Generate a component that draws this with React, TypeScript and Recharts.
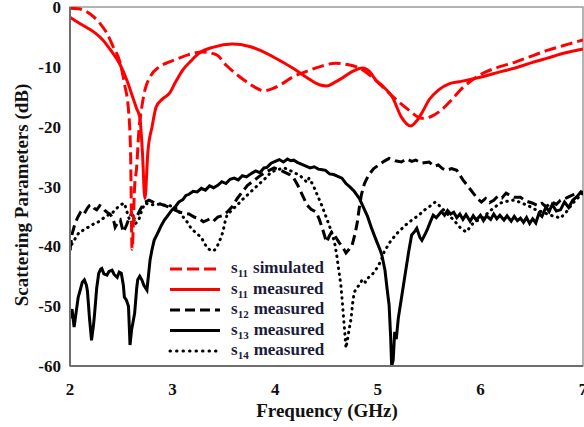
import { LineChart, Line, XAxis, YAxis, ReferenceArea, Legend } from 'recharts';

// s11 simulated
const s11SimFreq = [2.0, 2.08, 2.14, 2.19, 2.29, 2.36, 2.42, 2.49, 2.53, 2.57, 2.59, 2.605, 2.63, 2.65, 2.67, 2.7, 2.73, 2.78, 2.87, 2.95, 3.04, 3.15, 3.29, 3.43, 3.52, 3.62, 3.72, 3.8, 3.89, 3.98, 4.07, 4.17, 4.3, 4.43, 4.59, 4.7, 4.82, 4.95, 5.08, 5.2, 5.3, 5.43, 5.52, 5.62, 5.72, 5.82, 5.92, 6.01, 6.15, 6.34, 6.5, 6.66, 6.82, 7.0];
const s11SimDb = [-0.2, -0.3, -0.6, -1.1, -2.7, -4.4, -6.6, -9.4, -12.8, -17.2, -24, -40.5, -30, -26.7, -21, -16.7, -13.9, -11.7, -10, -9.3, -8.7, -8.0, -7.5, -8.0, -9.7, -11.2, -12.5, -13.4, -14, -13.6, -12.8, -11.7, -10.8, -10, -9.4, -9.6, -10.2, -11.8, -13.9, -15.8, -17.2, -18.6, -18.3, -17.2, -15.5, -13.6, -12.2, -11.2, -10.2, -9.2, -8.2, -7.2, -6.4, -5.5];

// s11 measured
const s11MeasFreq = [2.0, 2.08, 2.17, 2.25, 2.32, 2.4, 2.49, 2.56, 2.61, 2.65, 2.68, 2.705, 2.73, 2.76, 2.8, 2.84, 2.9, 2.97, 3.03, 3.1, 3.18, 3.26, 3.4, 3.58, 3.75, 3.91, 4.05, 4.17, 4.3, 4.43, 4.5, 4.58, 4.65, 4.75, 4.85, 4.92, 4.98, 5.06, 5.14, 5.23, 5.32, 5.38, 5.43, 5.5, 5.59, 5.7, 5.79, 6.01, 6.2, 6.34, 6.5, 6.66, 6.82, 7.0];
const s11MeasDb = [-1.7, -2.6, -3.5, -4.4, -5.5, -7.3, -9.7, -12.5, -15, -17, -18.4, -24, -32, -24, -20, -16.7, -15.4, -14.4, -12.5, -10.5, -9, -7.7, -6.7, -6.2, -6.6, -7.7, -9, -10.2, -11.7, -13, -13.2, -12.6, -11.9, -10.8, -10.2, -10.8, -12.2, -13.4, -15, -18.4, -19.9, -19, -17.7, -15.5, -13.9, -12.8, -12.5, -11.7, -10.8, -10.2, -9.3, -8.5, -7.7, -7];

// s12 measured
const s12Freq = [2.0, 2.02, 2.05, 2.08, 2.1, 2.13, 2.17, 2.19, 2.21, 2.24, 2.26, 2.29, 2.31, 2.34, 2.36, 2.39, 2.41, 2.43, 2.44, 2.47, 2.49, 2.51, 2.52, 2.55, 2.57, 2.6, 2.63, 2.65, 2.68, 2.7, 2.73, 2.77, 2.82, 2.86, 2.91, 2.96, 3.02, 3.07, 3.12, 3.16, 3.21, 3.26, 3.3, 3.34, 3.38, 3.41, 3.44, 3.48, 3.53, 3.58, 3.63, 3.68, 3.73, 3.8, 3.86, 3.92, 3.99, 4.04, 4.09, 4.14, 4.18, 4.22, 4.25, 4.28, 4.31, 4.35, 4.4, 4.43, 4.46, 4.5, 4.53, 4.55, 4.58, 4.62, 4.66, 4.69, 4.72, 4.75, 4.78, 4.8, 4.82, 4.84, 4.87, 4.91, 4.96, 5.01, 5.06, 5.11, 5.17, 5.23, 5.28, 5.33, 5.37, 5.43, 5.5, 5.55, 5.59, 5.63, 5.67, 5.72, 5.77, 5.8, 5.83, 5.88, 5.93, 5.97, 6.01, 6.05, 6.09, 6.13, 6.17, 6.21, 6.25, 6.29, 6.33, 6.39, 6.44, 6.51, 6.56, 6.6, 6.64, 6.7, 6.74, 6.78, 6.84, 6.9, 6.95, 7.0];
const s12Db = [-40.6, -38, -36.1, -35, -34.4, -34.8, -33.6, -33.2, -33.1, -33.7, -33.9, -33.2, -33.4, -34.0, -34.3, -34.6, -35.1, -36, -36.8, -35.9, -35.6, -37, -37.6, -36.5, -35.6, -34.5, -35.5, -35.1, -34, -33.4, -32.6, -32.3, -32.7, -32.8, -33.1, -33.4, -33.9, -34.3, -34.5, -34.6, -35.1, -35.4, -35.9, -35.6, -35.2, -35.6, -35.1, -34.9, -34.3, -33.4, -32, -30.9, -29.8, -28.9, -28.1, -27.5, -26.9, -27.2, -27.6, -28.0, -28.6, -29.8, -30.9, -32.0, -33.1, -33.8, -34.3, -35.5, -37, -39.3, -38.2, -37.6, -38.2, -39.3, -40.2, -41.1, -40.5, -39.8, -37.8, -36, -33.5, -31.4, -29.5, -28.1, -27.0, -26.4, -25.8, -25.3, -25.7, -25.9, -25.4, -25.8, -25.6, -26.1, -25.9, -26.6, -26.4, -27.0, -27.3, -27.0, -27.3, -28.1, -28.9, -30.0, -31.1, -32.0, -32.6, -32.0, -32.7, -32.3, -31.6, -31.9, -31.1, -31.5, -31.8, -31.8, -32.4, -32.8, -33.2, -32.8, -33.4, -32.6, -33.0, -32.3, -31.9, -31.4, -31.2, -30.9];

// s13 measured
const s13Freq = [2.0, 2.02, 2.04, 2.06, 2.08, 2.1, 2.12, 2.14, 2.16, 2.17, 2.19, 2.21, 2.23, 2.24, 2.26, 2.28, 2.3, 2.31, 2.33, 2.36, 2.38, 2.41, 2.43, 2.46, 2.48, 2.5, 2.52, 2.53, 2.55, 2.57, 2.585, 2.6, 2.63, 2.65, 2.66, 2.68, 2.7, 2.72, 2.75, 2.77, 2.78, 2.8, 2.82, 2.86, 2.89, 2.92, 2.96, 2.99, 3.03, 3.06, 3.1, 3.13, 3.16, 3.2, 3.24, 3.28, 3.32, 3.36, 3.4, 3.44, 3.48, 3.52, 3.56, 3.6, 3.64, 3.68, 3.72, 3.77, 3.81, 3.85, 3.89, 3.92, 3.96, 4.0, 4.04, 4.08, 4.12, 4.15, 4.18, 4.22, 4.26, 4.3, 4.34, 4.38, 4.42, 4.46, 4.49, 4.53, 4.57, 4.61, 4.65, 4.69, 4.73, 4.77, 4.82, 4.86, 4.9, 4.94, 4.98, 5.02, 5.04, 5.07, 5.09, 5.11, 5.125, 5.135, 5.15, 5.165, 5.18, 5.2, 5.22, 5.25, 5.27, 5.3, 5.33, 5.36, 5.38, 5.41, 5.43, 5.46, 5.48, 5.51, 5.54, 5.57, 5.59, 5.62, 5.65, 5.68, 5.71, 5.74, 5.77, 5.8, 5.83, 5.86, 5.9, 5.93, 5.96, 6.0, 6.03, 6.06, 6.1, 6.13, 6.16, 6.19, 6.23, 6.26, 6.3, 6.33, 6.36, 6.39, 6.42, 6.45, 6.48, 6.51, 6.54, 6.57, 6.6, 6.64, 6.67, 6.7, 6.74, 6.78, 6.82, 6.86, 6.9, 6.94, 6.98, 7.0];
const s13Db = [-52, -50.5, -53.5, -51, -48.5, -47.3, -46, -45.6, -46.5, -47.5, -52, -55.7, -53, -51.2, -47, -44.5, -43.8, -43.7, -44.6, -44.8, -44.2, -44, -44.7, -45.2, -44.3, -44.5, -46.5, -48.5, -49, -50, -56.5, -54, -51.2, -47, -45.6, -45, -45.6, -46.5, -47.3, -44, -42.3, -40.5, -39, -37.6, -36.5, -35.6, -34.7, -34, -33.3, -32.6, -32.2, -31.5, -31.3, -30.8, -30.9, -30.3, -30.6, -29.9, -30.2, -29.8, -29.2, -29.5, -28.8, -28.6, -28.9, -28.2, -28.4, -27.8, -27.4, -27.7, -26.9, -26.8, -26.1, -25.8, -25.5, -25.9, -25.4, -25.7, -25.6, -26.0, -26.3, -26.6, -26.9, -26.7, -27.1, -27.2, -27.3, -27.9, -28.0, -28.3, -28.6, -29.5, -30.1, -30.8, -32, -33.5, -35, -37, -38.8, -40.5, -41.5, -44, -47, -49.8, -55, -60, -59, -54.3, -55.5, -52, -49.8, -46.5, -44.3, -41, -38.1, -37.5, -37, -38.5, -39, -38, -37.3, -36, -34.8, -35.2, -34.8, -34.2, -34.8, -34.0, -34.6, -34.3, -35.2, -34.6, -35.5, -34.7, -35.8, -34.9, -35.6, -34.8, -35.7, -34.9, -35.5, -34.6, -35.4, -34.8, -35.6, -34.9, -35.8, -35.0, -35.7, -35.3, -36.0, -35.2, -36.2, -35.4, -36.1, -34.5, -35.0, -33.4, -34.2, -33.0, -34.1, -33.9, -32.6, -33.5, -32.3, -31.7, -30.9, -31.2];

// s14 measured
const s14Freq = [2.0, 2.02, 2.04, 2.07, 2.09, 2.12, 2.15, 2.18, 2.21, 2.25, 2.28, 2.31, 2.34, 2.38, 2.41, 2.44, 2.47, 2.5, 2.53, 2.56, 2.58, 2.62, 2.65, 2.67, 2.7, 2.73, 2.78, 2.83, 2.88, 2.92, 2.97, 3.02, 3.07, 3.12, 3.15, 3.18, 3.23, 3.28, 3.31, 3.34, 3.38, 3.41, 3.44, 3.47, 3.49, 3.51, 3.53, 3.58, 3.63, 3.68, 3.73, 3.78, 3.83, 3.9, 3.96, 4.02, 4.09, 4.14, 4.18, 4.25, 4.31, 4.33, 4.37, 4.41, 4.45, 4.49, 4.52, 4.55, 4.58, 4.6, 4.62, 4.64, 4.655, 4.67, 4.69, 4.71, 4.74, 4.755, 4.77, 4.8, 4.82, 4.85, 4.88, 4.91, 4.94, 4.97, 5.01, 5.04, 5.06, 5.1, 5.13, 5.17, 5.2, 5.25, 5.3, 5.35, 5.4, 5.45, 5.5, 5.53, 5.56, 5.6, 5.64, 5.69, 5.74, 5.78, 5.81, 5.86, 5.9, 5.93, 5.98, 6.03, 6.1, 6.19, 6.25, 6.32, 6.38, 6.45, 6.5, 6.54, 6.61, 6.68, 6.73, 6.78, 6.84, 6.9, 6.95, 7.0];
const s14Db = [-40.6, -39.5, -39, -38.2, -37.6, -37.4, -37, -36.8, -36.5, -36.0, -35.9, -35.5, -35.1, -34.7, -34.5, -33.9, -33.4, -33.0, -32.8, -34.5, -35.6, -36.5, -36, -35.6, -34.0, -32.8, -33.0, -33.1, -32.9, -33.1, -33.2, -33.4, -34.3, -35.5, -36.1, -37, -37.8, -38.5, -39.5, -40.3, -40.8, -40.6, -39.8, -38.6, -37.6, -36.0, -34.8, -33.9, -33.1, -32.2, -31.4, -30.6, -29.8, -28.7, -27.6, -27.2, -26.9, -27.3, -27.6, -28.3, -29.3, -28.6, -29.8, -31.4, -33.0, -34.8, -36.2, -37.6, -39.5, -41.5, -44, -46.5, -49.5, -52.7, -57, -55, -52, -49.5, -47.7, -46.8, -46.5, -45.5, -46, -45.2, -44.8, -44.2, -43.1, -42, -41, -39.8, -39, -38.2, -37.6, -36.8, -36, -35.4, -34.8, -34.0, -33.4, -33.0, -32.6, -33.2, -33.9, -34.8, -35.6, -36.4, -37, -37.6, -36.8, -36.1, -35.6, -35.1, -34.0, -32.8, -32.5, -32.3, -32.6, -33.1, -33.5, -33.9, -34.3, -34.8, -35.0, -35.3, -34.2, -32.8, -31.9, -31.1];

const xTicks = [2, 3, 4, 5, 6, 7];
const yTicks = [0, -10, -20, -30, -40, -50, -60];

const toPoints = (fs: number[], vs: number[]) => fs.map((f, i) => ({ f, v: vs[i] }));

const SERIF = '"Liberation Serif", "Times New Roman", serif';

const legendRows = [
  { sub: '11', label: 'simulated', color: '#ff0000', dash: '12 5', cap: 'butt' },
  { sub: '11', label: 'measured', color: '#ff0000', dash: undefined, cap: 'butt' },
  { sub: '12', label: 'measured', color: '#000', dash: '10 5', cap: 'butt' },
  { sub: '13', label: 'measured', color: '#000', dash: undefined, cap: 'butt' },
  { sub: '14', label: 'measured', color: '#000', dash: '0.5 6', cap: 'round' },
];

function LegendBox() {
  return (
    <svg width={180} height={105}>
      {legendRows.map((r, i) => {
        const cy = 12 + i * 20.5;
        return (
          <g key={i}>
            <line x1={5} x2={55} y1={cy} y2={cy} stroke={r.color} strokeWidth={3} strokeDasharray={r.dash} strokeLinecap={r.cap as any} />
            <text x={66} y={cy + 4} fontFamily={SERIF} fontWeight="bold" fontSize={17} fill="#1b1b3a">
              <tspan>s</tspan>
              <tspan dy={4} fontSize={11}>{r.sub}</tspan>
              <tspan dy={-4} dx={5}>{r.label}</tspan>
            </text>
          </g>
        );
      })}
    </svg>
  );
}

const YTitle = () => (
  <text x={21} y={195} transform="rotate(-90, 21, 195)" textAnchor="middle" dominantBaseline="central"
    fontFamily={SERIF} fontWeight="bold" fontSize={19} fill="#111">
    Scattering Parameters (dB)
  </text>
);

const XTitle = () => (
  <text x={327} y={417} textAnchor="middle" fontFamily={SERIF} fontWeight="bold" fontSize={19} fill="#111">
    Frequency (GHz)
  </text>
);

export default function App() {
  const tickStyle = { fontFamily: SERIF, fontWeight: 'bold', fontSize: 17, fill: '#111' };
  return (
    <div style={{ position: 'absolute', left: 0, top: 0, background: '#fff' }}>
      <LineChart width={584} height={427} margin={{ top: 7, right: 1, bottom: 0, left: 0 }}>
        <ReferenceArea x1={2} x2={7} y1={-60} y2={0} fill="none" stroke="#9a9a9a" strokeWidth={1.5} ifOverflow="visible" />
        <XAxis
          type="number"
          dataKey="f"
          domain={[2, 7]}
          ticks={xTicks}
          interval={0}
          allowDataOverflow
          tickLine={false}
          tickMargin={11}
          axisLine={{ stroke: '#6e6e6e', strokeWidth: 2 }}
          tick={tickStyle}
          height={61}
          label={{ content: XTitle }}
        />
        <YAxis
          type="number"
          domain={[-60, 0]}
          ticks={yTicks}
          interval={0}
          allowDataOverflow
          tickLine={false}
          tickMargin={3}
          axisLine={{ stroke: '#6e6e6e', strokeWidth: 2 }}
          tick={tickStyle}
          width={70}
          label={{ content: YTitle }}
        />
        <Line data={toPoints(s14Freq, s14Db)} dataKey="v" type="linear" stroke="#000" strokeWidth={3} strokeDasharray="0.5 5.5" strokeLinecap="round" dot={false} activeDot={false} isAnimationActive={false} />
        <Line data={toPoints(s13Freq, s13Db)} dataKey="v" type="linear" stroke="#000" strokeWidth={3} dot={false} activeDot={false} isAnimationActive={false} />
        <Line data={toPoints(s12Freq, s12Db)} dataKey="v" type="linear" stroke="#000" strokeWidth={3} strokeDasharray="10 5" dot={false} activeDot={false} isAnimationActive={false} />
        <Line data={toPoints(s11MeasFreq, s11MeasDb)} dataKey="v" type="monotone" stroke="#ff0000" strokeWidth={3} dot={false} activeDot={false} isAnimationActive={false} />
        <Line data={toPoints(s11SimFreq, s11SimDb)} dataKey="v" type="monotone" stroke="#ff0000" strokeWidth={3} strokeDasharray="12 5" dot={false} activeDot={false} isAnimationActive={false} />
        <Legend
          layout="vertical"
          align="center"
          verticalAlign="middle"
          wrapperStyle={{ left: 165, top: 257, width: 180, height: 105 }}
          content={() => <LegendBox />}
        />
      </LineChart>
    </div>
  );
}
